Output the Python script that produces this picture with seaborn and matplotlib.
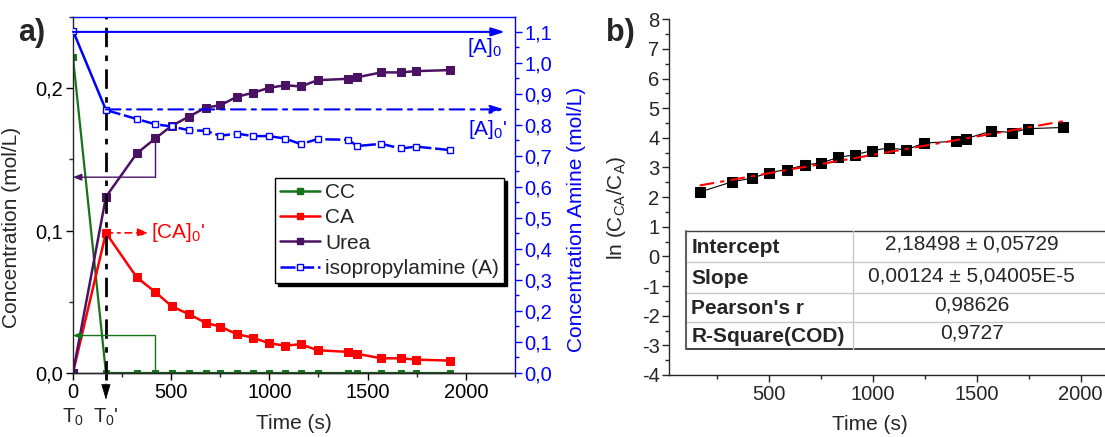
import matplotlib.pyplot as plt
import matplotlib.ticker as mtick
import matplotlib.transforms as mtrans
from matplotlib.lines import Line2D
import numpy as np
import seaborn as sns

# ---- data ----
time_s = [0, 168, 325, 420, 502, 590, 676, 750, 835, 915, 997,
          1080, 1160, 1245, 1400, 1448, 1570, 1670, 1747, 1917]
cc = [0.222, 0, 0, 0, 0, 0, 0, 0, 0, 0, 0, 0, 0, 0, 0, 0, 0, 0, 0, 0]
ca = [0, 0.0984, 0.0671, 0.0568, 0.0469, 0.0413, 0.0352, 0.0326, 0.0272, 0.0249,
      0.0209, 0.0192, 0.0202, 0.0160, 0.0148, 0.0134, 0.0103, 0.0103, 0.0094, 0.0087]
urea = [0, 0.1237, 0.1542, 0.1648, 0.1735, 0.1800, 0.1864, 0.1880, 0.1940, 0.1967,
        0.2002, 0.2021, 0.2012, 0.2056, 0.2066, 0.2077, 0.2111, 0.2111, 0.2120, 0.2127]
amine = [1.104, 0.848, 0.819, 0.802, 0.795, 0.783, 0.781, 0.765, 0.772, 0.764,
         0.764, 0.756, 0.738, 0.754, 0.752, 0.732, 0.739, 0.724, 0.730, 0.719]

time_b = time_s[1:]
ln_ratio = [2.17, 2.52, 2.64, 2.83, 2.93, 3.09, 3.15, 3.34, 3.43, 3.57,
            3.66, 3.59, 3.82, 3.89, 3.97, 4.23, 4.18, 4.31, 4.35]
fit_intercept = 2.18498
fit_slope = 0.00124

legend_labels = ["CC", "CA", "Urea", "isopropylamine (A)"]
table_labels = ["Intercept", "Slope", "Pearson's r", "R-Square(COD)"]
table_values = ["2,18498 \u00b1 0,05729", "0,00124 \u00b1 5,04005E-5", "0,98626", "0,9727"]

# key levels used by the annotations
a0 = 1.1
a0_prime = 0.85
t0_prime = 168

GREEN = "#16731a"
RED = "#ff0000"
PURPLE = "#4b1264"
BLUE = "#0000ff"
DASHDOT = (0, (7, 3, 2, 3))

sns.set_style("ticks")
plt.rcParams["font.family"] = ["Liberation Sans", "DejaVu Sans"]
plt.rcParams["mathtext.default"] = "regular"
plt.rcParams["xtick.direction"] = "out"
plt.rcParams["ytick.direction"] = "out"

FS_TICK = 14.5
FS = 15


def comma_fmt(decimals):
    return mtick.FuncFormatter(lambda v, p: f"{v:.{decimals}f}".replace(".", ","))


fig = plt.figure(figsize=(11.05, 4.37), dpi=100)
ax = fig.add_axes([0.066, 0.1465, 0.4, 0.8146])
ax2 = ax.twinx()

# ---- panel a ----
sns.lineplot(x=time_s, y=cc, ax=ax, color=GREEN, lw=1.6, marker="s", ms=4.5,
             mec=GREEN, sort=False, legend=False)
sns.lineplot(x=time_s, y=ca, ax=ax, color=RED, lw=1.8, marker="s", ms=5.3,
             mec=RED, sort=False, legend=False)
sns.lineplot(x=time_s, y=urea, ax=ax, color=PURPLE, lw=1.8, marker="s", ms=5.3,
             mec=PURPLE, sort=False, legend=False)

sns.lineplot(x=time_s[:2], y=amine[:2], ax=ax2, color=BLUE, lw=1.8, sort=False, legend=False)
sns.lineplot(x=time_s[1:], y=amine[1:], ax=ax2, color=BLUE, lw=1.8, sort=False,
             legend=False, linestyle=(0, (6, 1.5)))
ax2.plot(time_s, amine, ls="none", marker="s", ms=4.5, mfc="white", mec=BLUE, mew=1)

ax.set_xlim(0, 2250)
ax.set_ylim(0, 0.25)
ax2.set_ylim(0, 1.148)

ax.xaxis.set_major_locator(mtick.MultipleLocator(500))
ax.xaxis.set_minor_locator(mtick.MultipleLocator(250))
ax.yaxis.set_major_locator(mtick.MultipleLocator(0.1))
ax.yaxis.set_minor_locator(mtick.MultipleLocator(0.05))
ax.yaxis.set_major_formatter(comma_fmt(1))
ax2.yaxis.set_major_locator(mtick.MultipleLocator(0.1))
ax2.yaxis.set_minor_locator(mtick.MultipleLocator(0.05))
ax2.yaxis.set_major_formatter(comma_fmt(1))

for a in (ax, ax2):
    a.tick_params(which="major", length=5, width=1, labelsize=FS_TICK, pad=2)
    a.tick_params(which="minor", length=3, width=1)
    for s in a.spines.values():
        s.set_linewidth(1)
ax.tick_params(axis="both", colors="black")
ax2.tick_params(axis="y", which="both", colors=BLUE, labelcolor=BLUE)
ax2.spines["right"].set_color(BLUE)
ax2.spines["top"].set_color(BLUE)
ax2.spines["left"].set_visible(False)
ax.spines["right"].set_visible(False)
ax.spines["top"].set_visible(False)

ax.set_xlabel("Time (s)", fontsize=FS)
ax.xaxis.set_label_coords(0.5, -0.115)
ax.set_ylabel("Concentration (mol/L)", fontsize=FS)
ax.yaxis.set_label_coords(-0.118, 0.41)
ax2.set_ylabel("Concentration Amine (mol/L)", fontsize=FS, color=BLUE)
ax2.yaxis.set_label_coords(1.118, 0.43)

# T0 / T0' labels and marker under the axis
bt = mtrans.blended_transform_factory(ax.transData, ax.transAxes)
ax.text(0, -0.125, "T$_0$", transform=bt, ha="center", va="center", fontsize=FS_TICK)
ax.text(t0_prime, -0.125, "T$_0$'", transform=bt, ha="center", va="center", fontsize=FS_TICK)
ax.axvline(t0_prime, ymin=-0.02, ymax=1, color="black", lw=2, ls=DASHDOT, clip_on=False)
ax.annotate("", xy=(t0_prime, -0.075), xycoords=bt, xytext=(t0_prime, -0.03), textcoords=bt,
            arrowprops=dict(arrowstyle="-|>,head_width=0.3,head_length=1.0",
                            color="black", lw=0.5, shrinkA=0, shrinkB=0))

# [CA]0' arrow
ax.annotate("", xy=(383, ca[1]), xytext=(t0_prime, ca[1]),
            arrowprops=dict(arrowstyle="-|>,head_width=0.25,head_length=0.6", color=RED,
                            lw=1.2, ls=(0, (4, 3, 1.5, 3)), shrinkA=0, shrinkB=0))
ax.text(398, ca[1], "[CA]$_0$'", color=RED, fontsize=FS, va="center", ha="left")

# bracket arrows pointing to the left axis
ax.plot([time_s[3], time_s[3]], [urea[3], 0.1375], color=PURPLE, lw=1)
ax.annotate("", xy=(0, 0.1375), xytext=(time_s[3], 0.1375),
            arrowprops=dict(arrowstyle="-|>,head_width=0.2,head_length=0.5", color=PURPLE,
                            lw=1, shrinkA=0, shrinkB=0))
ax.plot([time_s[3], time_s[3]], [0, 0.0263], color=GREEN, lw=1, clip_on=False)
ax.annotate("", xy=(0, 0.0263), xytext=(time_s[3], 0.0263),
            arrowprops=dict(arrowstyle="-|>,head_width=0.2,head_length=0.5", color=GREEN,
                            lw=1, shrinkA=0, shrinkB=0))

# [A]0 and [A]0' arrows on the amine axis
ax2.annotate("", xy=(2199, a0), xytext=(0, a0),
             arrowprops=dict(arrowstyle="-|>,head_width=0.25,head_length=0.8", color=BLUE,
                             lw=1.5, shrinkA=0, shrinkB=0))
ax2.text(2185, 1.05, "[A]$_0$", color=BLUE, fontsize=FS, ha="right", va="center")
ax2.annotate("", xy=(2195, a0_prime), xytext=(t0_prime, a0_prime),
             arrowprops=dict(arrowstyle="-|>,head_width=0.25,head_length=0.8", color=BLUE,
                             lw=1.5, ls=(0, (7, 3, 2, 3)), shrinkA=0, shrinkB=0))
ax2.text(2210, 0.785, "[A]$_0$'", color=BLUE, fontsize=FS, ha="right", va="center")

# legend
handles = [
    Line2D([], [], color=GREEN, lw=1.8, marker="s", ms=5, mec=GREEN),
    Line2D([], [], color=RED, lw=1.8, marker="s", ms=5, mec=RED),
    Line2D([], [], color=PURPLE, lw=1.8, marker="s", ms=5, mec=PURPLE),
    Line2D([], [], color=BLUE, lw=1.8, marker="s", ms=4.5, mfc="white", mec=BLUE,
           ls=(0, (6, 1.5))),
]
leg = ax2.legend(handles, legend_labels,
                 loc="upper left", bbox_to_anchor=(275 / 1105, 1 - 178 / 437),
                 bbox_transform=fig.transFigure, borderaxespad=0, fontsize=FS,
                 frameon=True, fancybox=False, edgecolor="black", framealpha=1,
                 handlelength=1.9, handletextpad=0.25, labelspacing=0.3,
                 borderpad=0.25, shadow={"color": "black", "alpha": 1})
leg.get_frame().set_linewidth(1)

# ---- panel b ----
axb = fig.add_axes([0.6057, 0.1419, 0.3943, 0.814])
sns.lineplot(x=time_b, y=ln_ratio, ax=axb, color="black", lw=0.8, marker="s",
             ms=6.5, mec="black", sort=False, legend=False)
fit_x = np.array([time_b[0], time_b[-1]])
fit_y = fit_intercept + fit_slope * fit_x
sns.lineplot(x=fit_x, y=fit_y, ax=axb, color=RED, lw=1.5, linestyle=DASHDOT, legend=False)

axb.set_xlim(22, 2117)
axb.set_ylim(-4, 8)
axb.xaxis.set_major_locator(mtick.MultipleLocator(500))
axb.xaxis.set_minor_locator(mtick.MultipleLocator(250))
axb.yaxis.set_major_locator(mtick.MultipleLocator(1))
axb.yaxis.set_minor_locator(mtick.MultipleLocator(0.5))
axb.yaxis.set_major_formatter(mtick.FuncFormatter(lambda v, p: f"{v:.0f}"))
axb.tick_params(which="major", length=5, width=1, labelsize=FS_TICK, pad=2)
axb.tick_params(which="minor", length=3, width=1)
sns.despine(ax=axb)
for s in axb.spines.values():
    s.set_linewidth(1)
axb.set_xlabel("Time (s)", fontsize=FS)
axb.xaxis.set_label_coords(0.46, -0.112)
axb.set_ylabel("ln (C$_{CA}$/C$_{A}$)", fontsize=FS)
axb.yaxis.set_label_coords(-0.095, 0.47)

# fit parameter table
x0, xdiv, xr, xval = 0.0383, 0.4223, 1.05, 0.694
row_y = [0.4048, 0.3172, 0.2300, 0.1502, 0.0723]
tk = dict(transform=axb.transAxes, clip_on=False)
for y in row_y[1:-1]:
    axb.plot([x0, xr], [y, y], color="#c8c8c8", lw=1, **tk)
axb.plot([x0, xr], [row_y[0], row_y[0]], color="#404040", lw=1, **tk)
axb.plot([x0, xr], [row_y[-1], row_y[-1]], color="#202020", lw=1.2, **tk)
axb.plot([x0, x0], [row_y[-1], row_y[0]], color="#606060", lw=1.5, **tk)
axb.plot([xdiv, xdiv], [row_y[-1], row_y[0]], color="#c8c8c8", lw=1, **tk)
for i, (lab, val) in enumerate(zip(table_labels, table_values)):
    yc = (row_y[i] + row_y[i + 1]) / 2
    axb.text(x0 + 0.012, yc - 0.002, lab, transform=axb.transAxes, fontsize=FS,
             fontweight="bold", va="center", ha="left")
    axb.text(xval, yc + 0.006, val, transform=axb.transAxes, fontsize=FS,
             va="center", ha="center")

fig.text(32 / 1105, 1 - 33 / 437, "a)", fontsize=22, fontweight="bold", ha="center", va="center")
fig.text(620 / 1105, 1 - 33 / 437, "b)", fontsize=22, fontweight="bold", ha="center", va="center")

fig.savefig("out.png", dpi=100)
